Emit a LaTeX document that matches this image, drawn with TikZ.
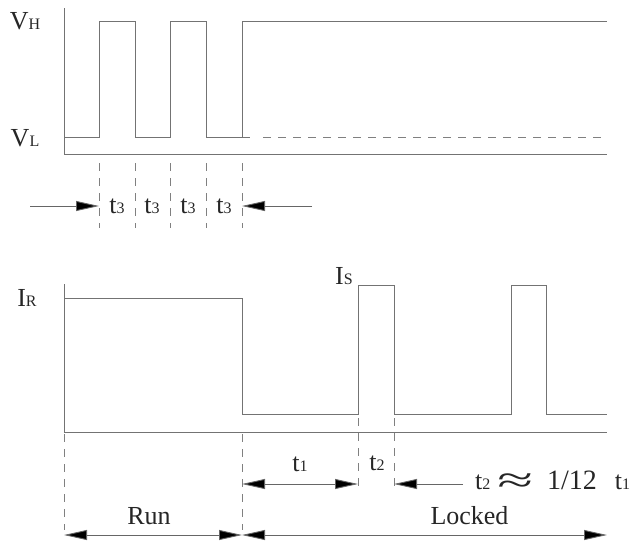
\documentclass[tikz,border=0pt]{standalone}
\usepackage{fontspec}
\setmainfont{Liberation Serif}
\usetikzlibrary{arrows.meta,positioning}

\newcommand{\sublab}[2]{#1{\fontsize{16}{16}\selectfont #2}}

\begin{document}
\begin{tikzpicture}[x=1pt, y=-1pt,
  wave/.style={draw=black!55, line width=0.9pt},
  guide/.style={draw=black!50, line width=0.9pt, dash pattern=on 8pt off 7pt},
  dim/.style={draw=black!60, line width=0.9pt, -{Triangle[length=23pt, width=10pt, fill=black]}},
  dimb/.style={draw=black!60, line width=0.9pt, {Triangle[length=23pt, width=10pt, fill=black]}-{Triangle[length=23pt, width=10pt, fill=black]}},
  lab/.style={font=\fontsize{26}{28}\selectfont, text=black!85, inner sep=0pt}
]
\useasboundingbox (0,0) rectangle (643,542);

% voltage
\coordinate (vtop) at (64,8);
\coordinate (vo) at (64,154);
\coordinate (vend) at (607,154);
\draw[wave] (vtop) -- (vo) -- (vend);
\draw[wave] (64,137) -- (99,137) -- (99,21) -- (135,21) -- (135,137) -- (170,137)
  -- (170,21) -- (206,21) -- (206,137) -- (242,137) -- (242,21) -- (607,21);
\draw[wave] (242,137) -- (250,137);
\draw[guide] (263,137) -- (607,137);
\node[lab] (vh) at (25,21) {\sublab{V}{H}};
\node[lab] (vl) at (25,138) {\sublab{V}{L}};

\foreach \x/\n in {99/a,135/b,170/c,206/d,242/e} {
  \coordinate (g\n) at (\x,206);
  \draw[guide] (\x,163) -- (\x,228);
}
\foreach \x in {117,152,188,224}
  \node[lab] at (\x,206) {\sublab{t}{3}};
\coordinate (tin) at (30,206);
\coordinate (tout) at (312,206);
\draw[dim] (tin) -- (ga);
\draw[dim] (tout) -- (ge);

% current
\coordinate (itop) at (64,284);
\coordinate (io) at (64,432);
\coordinate (iend) at (607,432);
\draw[wave] (itop) -- (io) -- (iend);
\draw[wave] (64,298) -- (242,298) -- (242,414) -- (358,414) -- (358,285) -- (394,285)
  -- (394,414) -- (511,414) -- (511,285) -- (546,285) -- (546,414) -- (607,414);
\node[lab] (ir) at (27,298) {\sublab{I}{R}};
\node[lab] (is) at (344,276) {\sublab{I}{S}};

\draw[guide] (64,434) -- (64,530);
\draw[guide] (242,434) -- (242,530);
\draw[guide] (358,418) -- (358,492);
\draw[guide] (394,418) -- (394,492);

\coordinate (p1) at (242,484);
\coordinate (p2) at (358,484);
\coordinate (p3) at (394,484);
\coordinate (p4) at (463,484);
\draw[dimb] (p1) -- node[lab, above=12pt] {\sublab{t}{1}} (p2);
\draw[dim] (p4) -- (p3);
\node[lab] (t2) at (377,463) {\sublab{t}{2}};
\node[lab, anchor=west] (rel) at (475,482)
  {\sublab{t}{2}\hspace{7pt}\raisebox{-3pt}{\scalebox{2.5}[1.4]{≈}}\hspace{14pt}{\fontsize{28}{28}\selectfont 1/12}\hspace{18pt}\sublab{t}{1}};

\coordinate (r0) at (64,535);
\coordinate (r1) at (242,535);
\coordinate (r2) at (607,535);
\draw[dimb] (r0) -- node[lab, above=10pt, xshift=-4pt] {Run} (r1);
\draw[dimb] (r1) -- node[lab, above=10pt, xshift=45pt] {Locked} (r2);
\end{tikzpicture}
\end{document}
